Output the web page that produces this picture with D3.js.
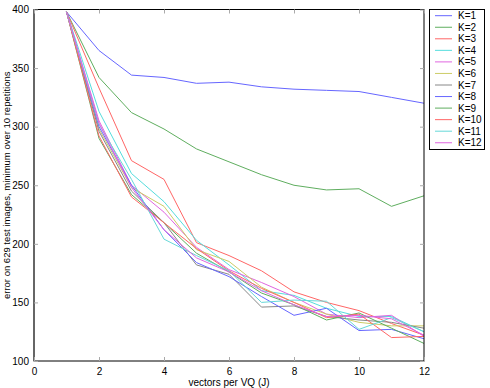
<!DOCTYPE html>
<html>
<head>
<meta charset="utf-8">
<script src="https://cdn.jsdelivr.net/npm/d3@7"></script>
<style>
  body { margin: 0; background: #fff; }
  text { font-family: "Liberation Sans", Arial, sans-serif; font-size: 10px; fill: #000; }
</style>
</head>
<body>
<svg id="chart" width="490" height="388"></svg>
<script>
const xs = [1, 2, 3, 4, 5, 6, 7, 8, 9, 10, 11, 12];
const labels = ['K=1', 'K=2', 'K=3', 'K=4', 'K=5', 'K=6', 'K=7', 'K=8', 'K=9', 'K=10', 'K=11', 'K=12'];
const colors = ['#6666ff', '#5fae5f', '#ff6666', '#55dddd', '#e066e0', '#cccc66', '#888888',
                '#6666ff', '#5fae5f', '#ff6666', '#66d8d8', '#e066e0'];

const k1  = [398, 365, 344, 342, 337, 338, 334, 332, 331, 330, 325, 320];
const k2  = [398, 342, 312, 298, 281, 270, 259, 250, 246, 247, 232, 241];
const k3  = [398, 333, 271, 255, 201, 190, 177, 159, 150, 143, 132, 122];
const k4  = [398, 313, 260, 236, 203, 182, 160, 156, 145, 138, 138, 125];
const k5  = [398, 305, 250, 227, 197, 178, 167, 155, 140, 137, 139, 121];
const k6  = [398, 298, 248, 232, 195, 185, 163, 150, 140, 133, 130, 130];
const k7  = [398, 296, 245, 218, 182, 174, 146, 147, 138, 135, 133, 128];
const k8  = [398, 300, 250, 212, 184, 172, 155, 139, 145, 126, 127, 119];
const k9  = [398, 290, 242, 218, 192, 176, 158, 148, 135, 141, 128, 115];
const k10 = [398, 292, 240, 218, 196, 177, 162, 150, 137, 140, 120, 121];
const k11 = [398, 302, 255, 204, 190, 177, 150, 152, 151, 127, 137, 125];
const k12 = [398, 303, 248, 212, 188, 176, 160, 148, 138, 139, 136, 122];
const series = [k1, k2, k3, k4, k5, k6, k7, k8, k9, k10, k11, k12];

const xTicks = [0, 2, 4, 6, 8, 10, 12];
const yTicks = [100, 150, 200, 250, 300, 350, 400];

const svg = d3.select('#chart');
const L = 34, R = 424, T = 9.5, B = 361;

let x = d3.scaleLinear().domain([0, 12]).range([L, R]);
let y = d3.scaleLinear().domain([100, 400]).range([B, T]);

// lines
let line = d3.line().x((d, i) => x(xs[i])).y(d => y(d));
const plot = svg.append('g');
series.forEach((s, i) => {
  plot.append('path')
    .datum(s)
    .attr('fill', 'none')
    .attr('stroke', colors[i])
    .attr('stroke-width', 1)
    .attr('d', line);
});

// box + ticks
svg.append('rect')
  .attr('x', L).attr('y', T).attr('width', R - L).attr('height', B - T)
  .attr('fill', 'none').attr('stroke', '#000').attr('stroke-width', 1);
svg.append('line')
  .attr('x1', L).attr('x2', L).attr('y1', T).attr('y2', B)
  .attr('stroke', '#666').attr('stroke-width', 2);

let aX = d3.axisBottom(x).tickValues(xTicks).tickSize(-4).tickPadding(7).tickFormat(d3.format('d'));
let aY = d3.axisLeft(y).tickValues(yTicks).tickSize(-4).tickPadding(5).tickFormat(d3.format('d'));

const gx = svg.append('g').attr('transform', `translate(0, ${B})`).call(aX);
const gy = svg.append('g').attr('transform', `translate(${L}, 0)`).call(aY);
[gx, gy].forEach(g => {
  g.select('.domain').remove();
  g.selectAll('.tick line').attr('stroke', '#aaa');
  g.selectAll('.tick text').style('font-family', '"Liberation Sans", Arial, sans-serif').style('font-size', '10px');
});

// top / right ticks
svg.append('g').attr('transform', `translate(0, ${T})`)
  .call(d3.axisTop(x).tickValues(xTicks).tickSize(-4).tickFormat(''))
  .call(g => { g.select('.domain').remove(); g.selectAll('.tick line').attr('stroke', '#aaa'); });
svg.append('g').attr('transform', `translate(${R}, 0)`)
  .call(d3.axisRight(y).tickValues(yTicks).tickSize(-4).tickFormat(''))
  .call(g => { g.select('.domain').remove(); g.selectAll('.tick line').attr('stroke', '#aaa'); });

// axis labels
svg.append('text')
  .attr('x', (L + R) / 2).attr('y', 386)
  .attr('text-anchor', 'middle')
  .text('vectors per VQ (J)');
svg.append('text')
  .attr('transform', `translate(10, ${(T + B) / 2}) rotate(-90)`)
  .attr('text-anchor', 'middle')
  .style('font-size', '9.5px')
  .text('error on 629 test images, minimum over 10 repetitions');

// legend
const lg = svg.append('g');
lg.append('rect')
  .attr('x', 429.5).attr('y', 9.5).attr('width', 55).attr('height', 140)
  .attr('fill', '#fff').attr('stroke', '#000');
labels.forEach((lab, i) => {
  const ly = 15.7 + i * 11.55;
  lg.append('line')
    .attr('x1', 435).attr('x2', 452).attr('y1', ly).attr('y2', ly)
    .attr('stroke', colors[i]);
  lg.append('text')
    .attr('x', 458).attr('y', ly + 3.5)
    .text(lab);
});
</script>
</body>
</html>
